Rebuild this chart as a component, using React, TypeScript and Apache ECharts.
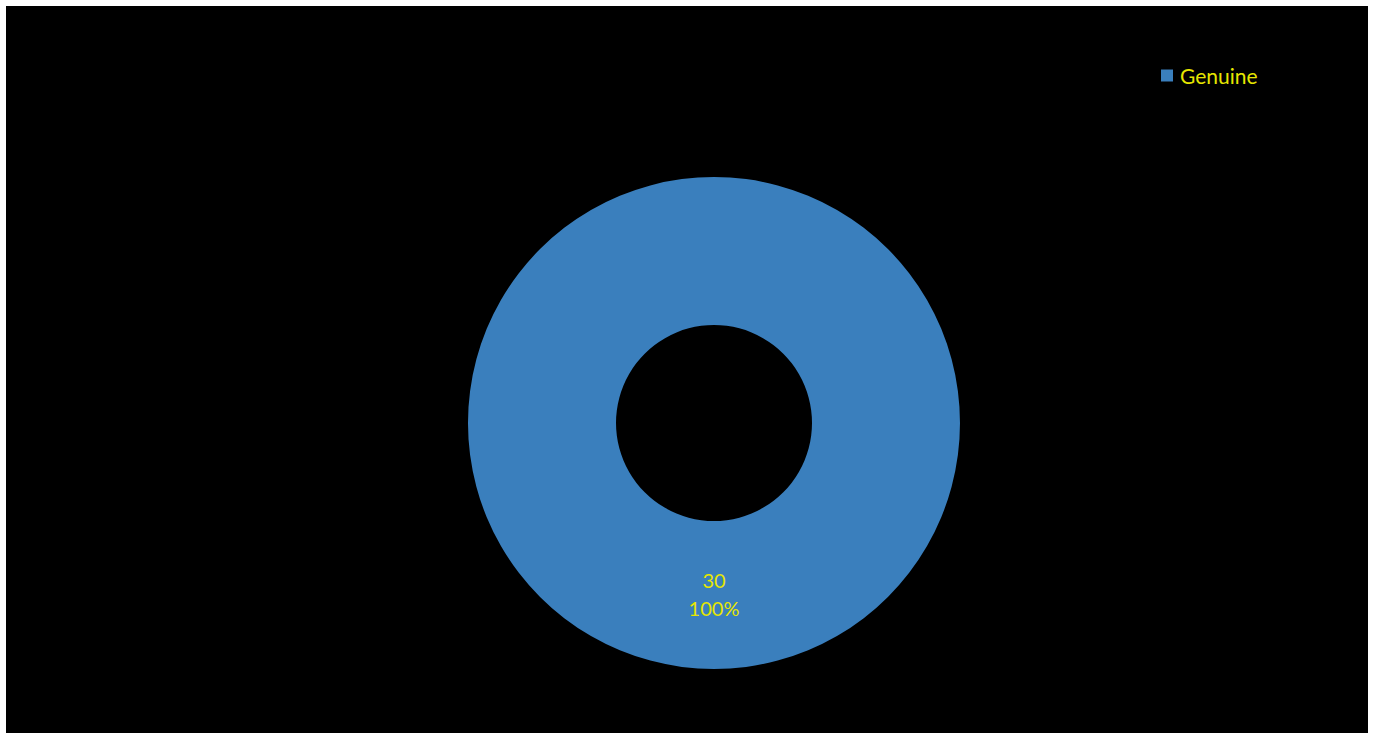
import React, { useEffect, useRef } from "react";
import * as echarts from "echarts";

const categories = ["Genuine"];
const values = [30];
const colors = ["#3a7fbd"];

export default function App() {
  const ref = useRef<HTMLDivElement>(null);
  useEffect(() => {
    if (!ref.current) return;
    const chart = echarts.init(ref.current, undefined, { renderer: "svg" });
    chart.setOption({
      animation: false,
      backgroundColor: "#000000",
      legend: {
        data: categories,
        left: 1150,
        top: 54,
        orient: "vertical",
        icon: "rect",
        itemWidth: 12,
        itemHeight: 12,
        itemGap: 8,
        textStyle: {
          color: "#e6e600",
          fontSize: 21,
          padding: [0, 0, 0, 2],
          fontFamily: "Lato, 'Open Sans', sans-serif",
        },
      },
      series: [
        {
          type: "pie",
          center: [708, 417],
          radius: [98, 246],
          startAngle: 90,
          clockwise: true,
          data: categories.map((c, i) => ({ name: c, value: values[i], itemStyle: { color: colors[i] } })),
          label: {
            show: true,
            position: "inside",
            formatter: (p: any) => `${p.value}\n${Math.round(p.percent)}%`,
            color: "#e6e600",
            fontSize: 20,
            lineHeight: 28,
            offset: [0, -4],
            fontFamily: "Lato, 'Open Sans', sans-serif",
          },
          labelLine: { show: false },
          emphasis: { disabled: true },
        },
      ],
    });
    return () => chart.dispose();
  }, []);
  return (
    <div style={{ position: "absolute", left: 0, top: 0, width: 1375, height: 733, background: "#ffffff" }}>
      <div ref={ref} style={{ position: "absolute", left: 6, top: 6, width: 1362, height: 727 }} />
    </div>
  );
}
